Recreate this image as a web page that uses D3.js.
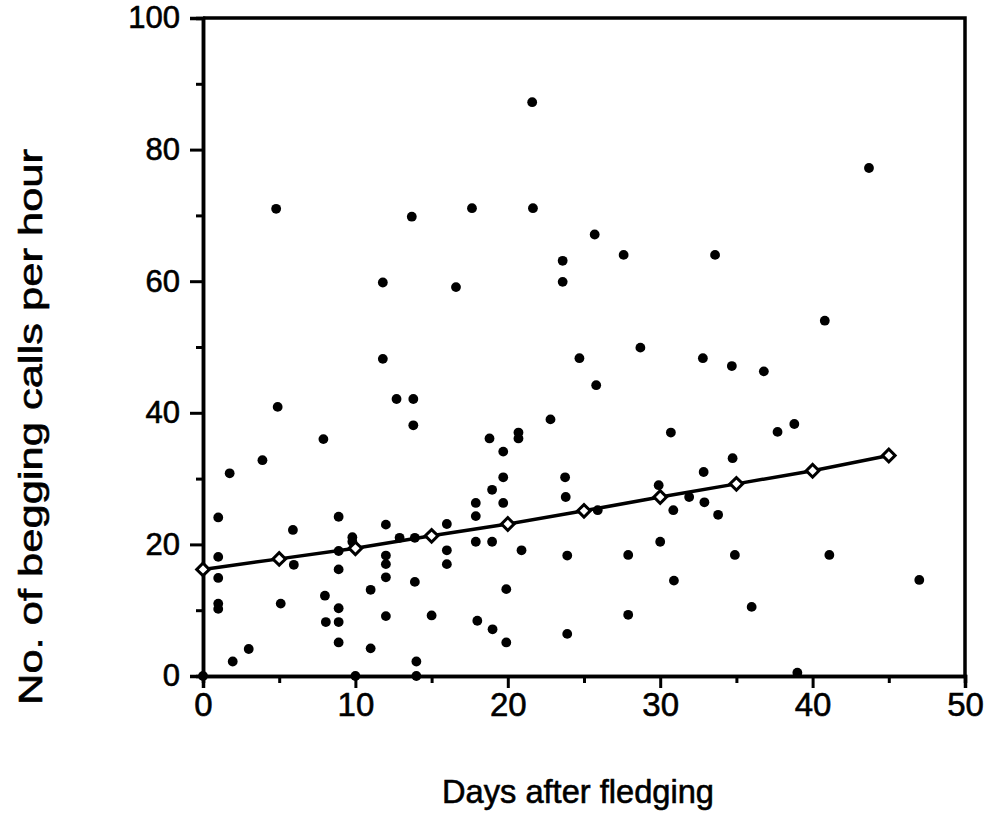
<!DOCTYPE html>
<html>
<head>
<meta charset="utf-8">
<script src="https://cdn.jsdelivr.net/npm/d3@7"></script>
<style>
  body { margin: 0; background: #fff; }
  svg text { font-family: "Liberation Sans", Arial, Helvetica, sans-serif; fill: #000; stroke: #000; stroke-width: 0.6px; }
</style>
</head>
<body>
<svg id="graph" width="997" height="814"></svg>
<script>
// observations: day after fledging and begging calls per hour
const days = [4.8, 13.7, 21.6, 17.65, 21.65, 25.7, 43.7, 11.8, 16.6, 11.8,
    12.7, 13.8, 4.9, 13.8, 7.9, 3.9, 23.6, 27.6, 33.6, 23.6,
    28.7, 24.7, 32.8, 25.8, 22.8, 18.8, 20.7, 20.7, 19.7, 30.7,
    40.8, 34.7, 36.8, 38.8, 37.7, 34.75, 1.75, 1.0, 8.9, 5.9,
    12.0, 16.0, 9.8, 9.8, 12.9, 13.9, 1.0, 8.9, 12.0, 12.0,
    16.0, 16.0, 5.96, 1.0, 8.9, 12.0, 13.9, 8.0, 11.0, 1.0,
    1.0, 5.1, 8.9, 12.0, 15.0, 8.06, 8.9, 8.9, 3.0, 11.0,
    1.95, 14.0, 0, 10.0, 14.0, 39.0, 17.9, 19.7, 18.97, 19.7,
    17.9, 17.9, 18.97, 20.9, 23.76, 23.8, 25.9, 23.9, 27.9, 29.9,
    30.86, 31.9, 32.85, 32.9, 33.8, 30.0, 30.9, 19.9, 27.9, 18.0,
    19.0, 19.9, 23.9, 34.9, 41.1, 47.0, 36.0];
const calls = [71.0, 69.8, 87.2, 71.1, 71.1, 67.1, 77.2, 59.8, 59.1, 48.2,
    42.1, 42.1, 40.9, 38.1, 36.0, 32.8, 63.1, 64.0, 64.0, 59.9,
    49.9, 48.3, 48.3, 44.2, 39.0, 36.1, 37.0, 36.1, 34.1, 37.0,
    54.0, 47.1, 46.3, 38.3, 37.1, 33.1, 30.8, 24.1, 24.2, 22.2,
    23.0, 23.1, 21.1, 20.4, 21.0, 21.0, 18.1, 19.0, 18.3, 17.0,
    19.1, 17.0, 16.9, 14.9, 16.2, 15.0, 14.3, 12.2, 13.1, 11.0,
    10.2, 11.0, 10.3, 9.1, 9.2, 8.2, 8.2, 5.1, 4.1, 4.2,
    2.2, 2.2, 0, 0, 0, 0.5, 26.3, 30.2, 28.3, 26.3,
    24.3, 20.4, 20.4, 19.1, 30.2, 27.2, 25.2, 18.3, 18.4, 29.0,
    25.2, 27.2, 31.0, 26.4, 24.5, 20.4, 14.5, 13.2, 9.3, 8.4,
    7.1, 5.1, 6.4, 18.4, 18.4, 14.6, 10.5];

// fitted line with its open diamond markers
const fitDays = [0, 5, 10, 15, 20, 25, 30, 35, 40, 45];
const fitCalls = [16.2, 17.8, 19.4, 21.3, 23.1, 25.1, 27.2, 29.2, 31.2, 33.5];

const xMajor = [0, 10, 20, 30, 40, 50];
const xMinor = [5, 15, 25, 35, 45];
const yMajor = [0, 20, 40, 60, 80, 100];
const yMinor = [10, 30, 50, 70, 90];

const svg = d3.select("#graph");

const x = d3.scaleLinear().domain([0, 50]).range([203, 965]);
const y = d3.scaleLinear().domain([0, 100]).range([676, 18]);

// frame (top and right sides)
svg.append("path")
    .attr("d", `M${x(0)},${y(100)}H${x(50)}V${y(0)}`)
    .attr("fill", "none")
    .attr("stroke", "#000")
    .attr("stroke-width", 3.5);

// Y axis
svg.append("g")
    .attr("class", "ymajor")
    .attr("transform", `translate(${x(0)},0)`)
    .call(d3.axisLeft(y).tickValues(yMajor).tickSize(13).tickPadding(10));
svg.append("g")
    .attr("transform", `translate(${x(0)},0)`)
    .call(d3.axisLeft(y).tickValues(yMinor).tickSize(7).tickFormat(""));

// X axis
svg.append("g")
    .attr("class", "xmajor")
    .attr("transform", `translate(0,${y(0)})`)
    .call(d3.axisBottom(x).tickValues(xMajor).tickSize(12).tickPadding(5));
svg.append("g")
    .attr("transform", `translate(0,${y(0)})`)
    .call(d3.axisBottom(x).tickValues(xMinor).tickSize(7).tickFormat(""));

svg.selectAll(".domain").attr("stroke", "#000").attr("stroke-width", 3.5);
svg.selectAll(".tick line").attr("stroke", "#000").attr("stroke-width", 3);
svg.selectAll(".tick text")
    .style("font-family", "'Liberation Sans', Arial, sans-serif")
    .attr("fill", "#000");
svg.selectAll(".ymajor .tick text").style("font-size", "31px");
svg.selectAll(".xmajor .tick text").style("font-size", "33px");

// Axis titles
svg.append("text")
    .attr("x", 578)
    .attr("y", 803)
    .attr("text-anchor", "middle")
    .attr("textLength", 272)
    .attr("lengthAdjust", "spacingAndGlyphs")
    .style("font-size", "33px")
    .text("Days after fledging");

svg.append("text")
    .attr("transform", "rotate(-90)")
    .attr("x", -427)
    .attr("y", 42)
    .attr("text-anchor", "middle")
    .attr("textLength", 556)
    .attr("lengthAdjust", "spacingAndGlyphs")
    .style("font-size", "33px")
    .text("No. of begging calls per hour");

// Points
svg.append("g")
    .selectAll("circle")
    .data(days.map((d, i) => [d, calls[i]]))
    .enter().append("circle")
        .attr("cx", d => x(d[0]))
        .attr("cy", d => y(d[1]))
        .attr("r", 4.9)
        .attr("fill", "#000");

// Regression line
const line = d3.line()
    .x(d => x(d[0]))
    .y(d => y(d[1]));
const fit = fitDays.map((d, i) => [d, fitCalls[i]]);

svg.append("path")
    .datum(fit)
    .attr("d", line)
    .attr("fill", "none")
    .attr("stroke", "#000")
    .attr("stroke-width", 3.5);

svg.append("g")
    .selectAll("path")
    .data(fit)
    .enter().append("path")
        .attr("d", d3.symbol().type(d3.symbolSquare).size(80))
        .attr("transform", d => `translate(${x(d[0])},${y(d[1])}) rotate(45)`)
        .attr("fill", "#fff")
        .attr("stroke", "#000")
        .attr("stroke-width", 3);
</script>
</body>
</html>
